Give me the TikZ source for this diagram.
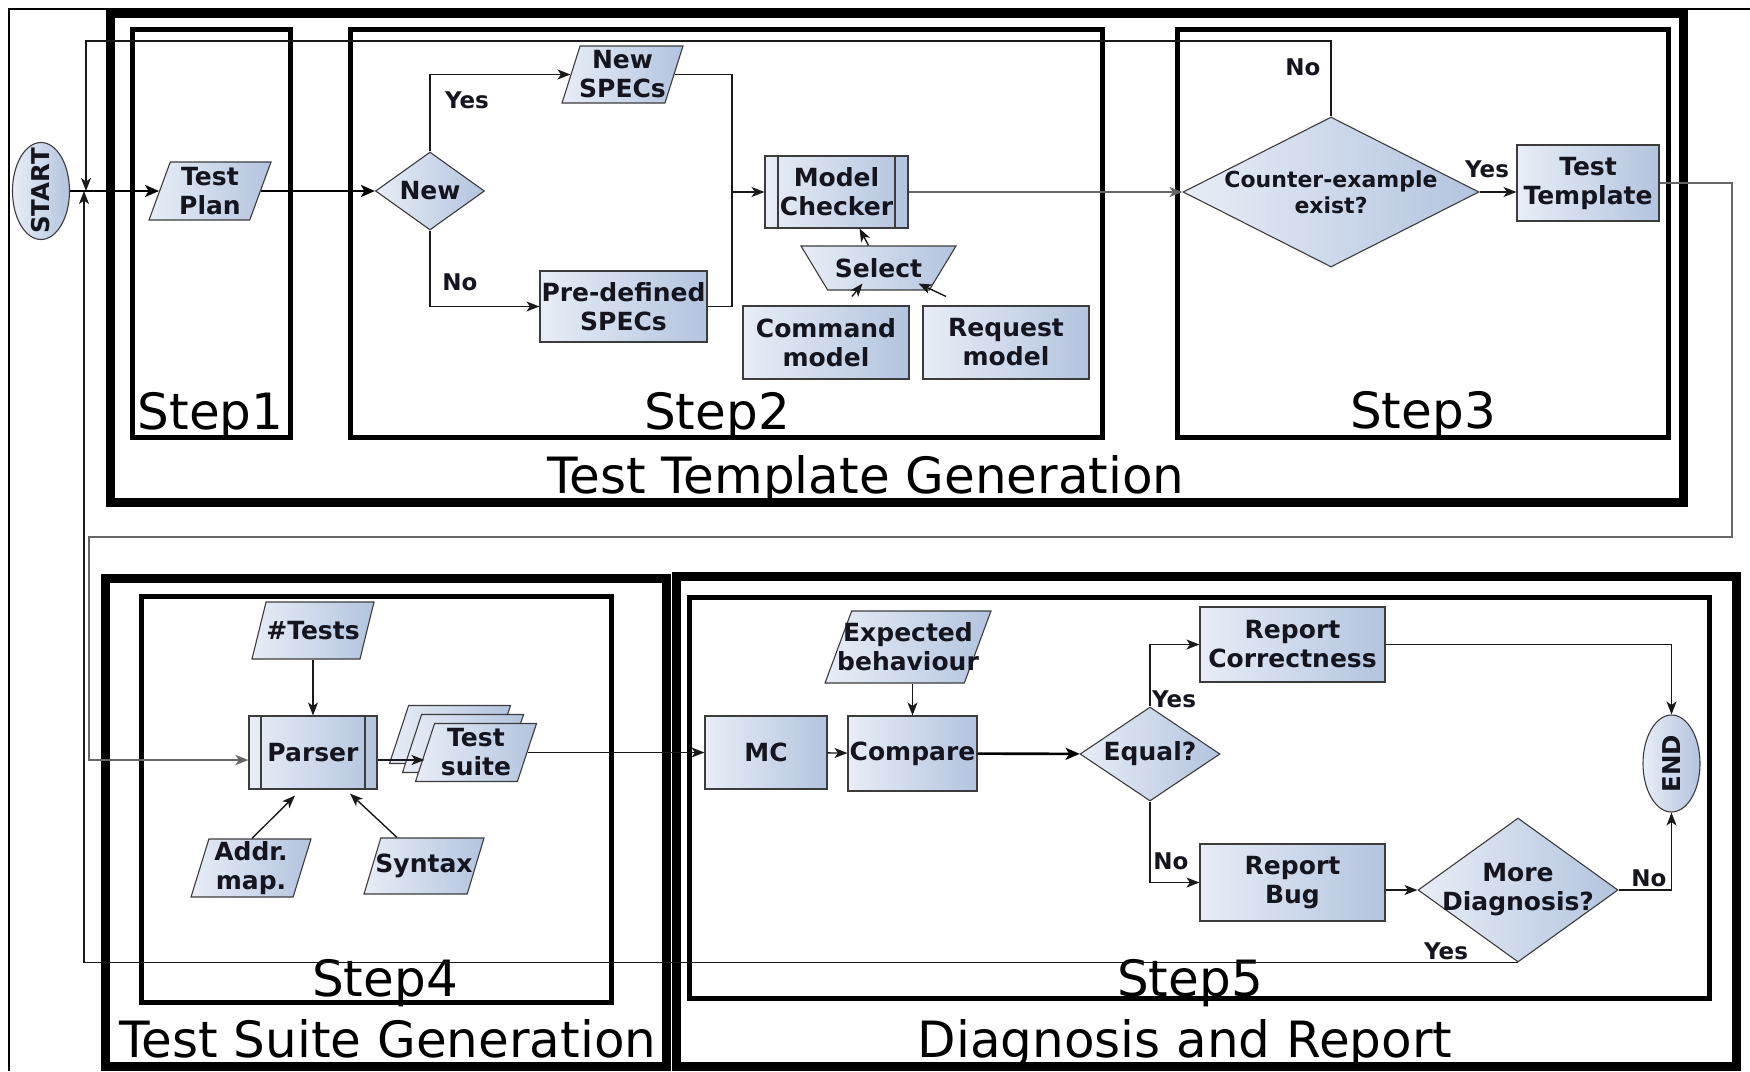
\documentclass[tikz,border=0pt]{standalone}
\usepackage{fontspec}
\setmainfont{DejaVu Sans}
\usetikzlibrary{shapes.geometric,arrows.meta,calc}
\definecolor{fillL}{HTML}{E8EDF6}
\definecolor{fillR}{HTML}{B3C4DF}
\definecolor{edgec}{HTML}{3C3C3C}
\definecolor{ink}{HTML}{15151F}
\newcommand\nfont{\fontsize{25}{29}\selectfont\bfseries}
\newcommand\sfontx{\fontsize{22}{26}\selectfont\bfseries}
\newcommand\tfontx{\fontsize{24.5}{28}\selectfont\bfseries}
\newcommand\lfont{\fontsize{23}{27}\selectfont\bfseries}
\newcommand\bfontx{\fontsize{50}{58}\selectfont}
\tikzset{
  shapebox/.style={draw=edgec, line width=1.1pt, left color=fillL, right color=fillR, inner sep=0pt},
  rectbox/.style={shapebox, rectangle, text=ink, font=\nfont, align=center},
  procbox/.style={rectbox, path picture={
      \draw[edgec, line width=1.1pt] ([xshift=#1]path picture bounding box.north west) -- ([xshift=#1]path picture bounding box.south west);
      \draw[edgec, line width=1.1pt] ([xshift=-#1]path picture bounding box.north east) -- ([xshift=-#1]path picture bounding box.south east);}},
  parabox/.style 2 args={shapebox, trapezium, inner sep=3pt, trapezium stretches=true, trapezium left angle=#1, trapezium right angle=#2},
  decbox/.style={shapebox, diamond},
  termbox/.style={shapebox, ellipse},
  txt/.style={text=ink, font=\nfont, align=center, inner sep=0pt},
  small/.style={text=ink, font=\sfontx, align=center, inner sep=0pt},
  termtxt/.style={text=ink, font=\tfontx, inner sep=0pt},
  yn/.style={text=ink, font=\lfont, inner sep=0pt},
  big/.style={font=\bfontx, anchor=base, inner sep=0pt},
  grpframe/.style={draw=black, line width=9pt},
  stepframe/.style={draw=black, line width=5pt},
  conn/.style={draw=black!90, line width=1.4pt},
  gconn/.style={draw=black!60, line width=1.4pt},
  arr/.style={conn, -{Stealth[length=13pt,width=10pt,inset=3.5pt]}},
  garr/.style={gconn, -{Stealth[length=13pt,width=10pt,inset=3.5pt]}},
  mainarr/.style={draw=black, line width=2.6pt, -{Stealth[length=14pt,width=12pt,inset=3.5pt]}},
}
\begin{document}
\begin{tikzpicture}[x=1pt,y=-1pt]
\useasboundingbox (0,0) rectangle (1750,1071);
\fill[white] (0,0) rectangle (1750,1071);

% outer border
\draw[line width=2pt] (9,1071) -- (9,9) -- (1750,9);

% group frames
\draw[grpframe] (110,13) rectangle (1683,502);
\draw[grpframe] (105,578) rectangle (666,1066);
\draw[grpframe] (676.5,576.5) rectangle (1736,1066.5);

% step frames
\draw[stepframe] (132,29) rectangle (290,437);
\draw[stepframe] (350,29) rectangle (1102,437);
\draw[stepframe] (1177,29) rectangle (1668.5,437);
\draw[stepframe] (141,596) rectangle (611,1002);
\draw[stepframe] (689,597) rectangle (1709.5,998.5);

% frame titles
\node[big] (t1) at (210.5,429) {Step1};
\node[big] (t2) at (717,429) {Step2};
\node[big] (t3) at (1423,428) {Step3};
\node[big] (g1) at (866,493) {Test Template Generation};
\node[big] (t4) at (385,996) {Step4};
\node[big] (g2) at (388,1057) {Test Suite Generation};
\node[big] (t5) at (1190,996) {Step5};
\node[big] (g3) at (1185,1057) {Diagnosis and Report};

% ---- Test template generation ----
\node[termbox, minimum width=57pt, minimum height=97pt] (start) at (41,191) {};
\node[termtxt, rotate=90] (startt) at (start) {START};
\node[parabox={75}{105}, minimum width=122pt, minimum height=58pt] (tp) at (210,191) {};
\node[txt] (tpt) at (tp) {Test\\Plan};
\node[decbox, minimum width=109pt, minimum height=78pt] (new) at (430,191) {};
\node[txt] (newt) at (new) {New};
\node[parabox={78}{102}, minimum width=121pt, minimum height=57pt] (ns) at (622.5,74.5) {};
\node[txt] (nst) at (ns) {New\\SPECs};
\node[rectbox, minimum width=167pt, minimum height=71pt] (pd) at (623.5,306.5) {Pre-defined\\SPECs};
\node[procbox=13pt, minimum width=143pt, minimum height=72pt] (mck) at (836.5,192) {Model\\Checker};
\node[parabox={104.7}{104.7}, minimum width=155pt, minimum height=44pt] (sel) at (878.5,268) {};
\node[txt] (selt) at (sel) {Select};
\node[rectbox, minimum width=166pt, minimum height=73pt] (cmd) at (826,342.5) {Command\\model};
\node[rectbox, minimum width=166pt, minimum height=73pt] (req) at (1006,342.5) {Request\\model};
\node[decbox, minimum width=296pt, minimum height=150pt] (ce) at (1331,192) {};
\node[small] (cet) at (ce) {Counter-example\\exist?};
\node[rectbox, minimum width=142pt, minimum height=76pt] (tt) at (1588,183) {Test\\Template};

% ---- Test suite generation ----
\node[parabox={81.5}{98.5}, minimum width=122pt, minimum height=57pt] (tests) at (313,630.5) {};
\node[txt] (testst) at (tests) {\#Tests};
\node[procbox=12pt, minimum width=128pt, minimum height=73pt] (parser) at (313,752.5) {Parser};
\node[parabox={77}{103}, minimum width=121pt, minimum height=58pt] (ts3) at (450,734.5) {};
\node[parabox={77}{103}, minimum width=121pt, minimum height=58pt] (ts2) at (463,743.5) {};
\node[parabox={77}{103}, minimum width=121pt, minimum height=58pt] (ts) at (476,752.5) {};
\node[txt] (tst) at (ts) {Test\\suite};
\node[parabox={78}{102}, minimum width=120pt, minimum height=58pt] (addr) at (251,868) {};
\node[txt] (addrt) at (addr) {Addr.\\map.};
\node[parabox={79}{101}, minimum width=120pt, minimum height=56pt] (syn) at (424,866) {};
\node[txt] (synt) at (syn) {Syntax};

% ---- Diagnosis and report ----
\node[rectbox, minimum width=122pt, minimum height=73pt] (mc) at (766,752.5) {MC};
\node[rectbox, minimum width=129pt, minimum height=75pt] (cmp) at (912.5,753.5) {Compare};
\node[parabox={76.7}{103.3}, minimum width=166pt, minimum height=72pt] (exp) at (908,647) {};
\node[txt] (expt) at (exp) {Expected\\behaviour};
\node[decbox, minimum width=140pt, minimum height=94pt] (eq) at (1150,754) {};
\node[txt] (eqt) at (eq) {Equal?};
\node[rectbox, minimum width=185pt, minimum height=75pt] (rc) at (1292.5,644.5) {Report\\Correctness};
\node[rectbox, minimum width=185pt, minimum height=77pt] (rb) at (1292.5,882.5) {Report\\Bug};
\node[decbox, minimum width=200pt, minimum height=144pt] (more) at (1518,890) {};
\node[txt] (moret) at (more) {More\\Diagnosis?};
\node[termbox, minimum width=57pt, minimum height=97pt] (end) at (1671.5,763.5) {};
\node[termtxt, rotate=90] (endt) at (end) {END};

% ---- connectors ----
\coordinate (jn) at (732,0);
\coordinate (lpN) at (86,41);
\coordinate (lpY) at (84,960);
\coordinate (rt) at (1732,537);
\coordinate (lt) at (89,537);

\draw[mainarr] (start) -- (tp);
\draw[mainarr] (tp) -- (new);
\draw[arr] (new.north) |- (ns.west);
\draw[arr] (new.south) |- (pd.west);
\draw[arr] (ns.east) -| (jn |- mck.west) -- (mck.west);
\draw[conn] (pd.east) -| (jn |- mck.west);
\draw[arr] ([xshift=-10pt]sel.north) -- ([xshift=23pt]mck.south);
\draw[arr] ([xshift=26pt,yshift=9pt]cmd.north) -- ([xshift=-16pt,yshift=7pt]sel.south);
\draw[arr] ([xshift=-60pt,yshift=9pt]req.north) -- ([xshift=40pt,yshift=7pt]sel.south);
\draw[garr] (mck) -- (ce);
\draw[arr] (ce.east) -- (ce.east -| tt.west);
\draw[arr] (ce.north) |- (lpN) -- (lpN |- start);
\draw[garr] (tt.east) -| (rt) -- (lt) |- ([yshift=-7.5pt]parser.west);

\draw[arr] (tests) -- (parser);
\draw[arr] ([yshift=-7.5pt]parser.east) -- ([yshift=-7.5pt]parser.east -| ts.west);
\draw[arr] ([xshift=1pt]addr.north) -- ([xshift=-18pt,yshift=-6pt]parser.south);
\draw[arr] ([xshift=-27pt]syn.north) -- ([xshift=37pt,yshift=-4pt]parser.south);
\draw[arr] (ts) -- (mc);

\draw[arr] (mc) -- (cmp);
\draw[arr] (cmp.north |- exp.south) -- (cmp.north);
\draw[mainarr] (cmp) -- (eq);
\draw[arr] (eq.north) |- (rc.west);
\draw[arr] (eq.south) |- (rb.west);
\draw[arr] (rc.east) -| (end.north);
\draw[arr] (rb.east |- more.west) -- (more.west);
\draw[arr] (more.east) -| (end.south);
\draw[arr] (more.south) -- (more.south -| lpY) -- (lpY |- start);

% branch labels
\node[yn] (y1) at (467,100) {Yes};
\node[yn] (n1) at (460,282) {No};
\node[yn] (n2) at (1303,67) {No};
\node[yn] (y2) at (1487,169) {Yes};
\node[yn] (y3) at (1174,699) {Yes};
\node[yn] (n3) at (1171,861) {No};
\node[yn] (n4) at (1649,878) {No};
\node[yn] (y4) at (1446,951) {Yes};
\end{tikzpicture}
\end{document}
